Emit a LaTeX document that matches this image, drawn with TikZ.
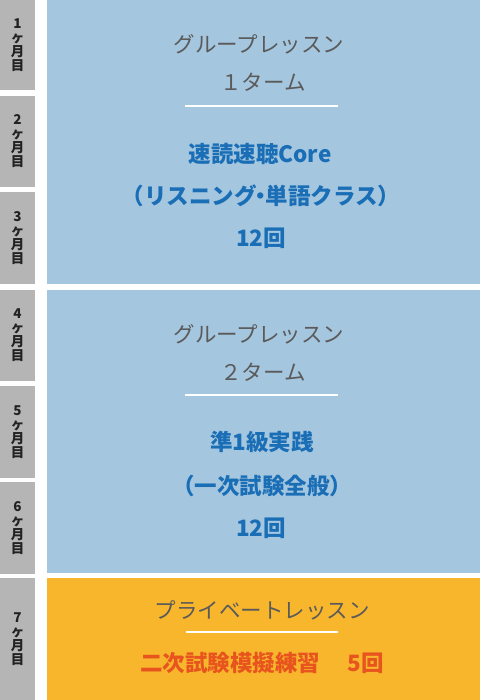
\documentclass[tikz,border=0pt]{standalone}
\usepackage{fontspec}
\setmainfont{Noto Sans CJK JP}
\usetikzlibrary{positioning}
\definecolor{month_gray}{RGB}{181,181,181}
\definecolor{month_ink}{RGB}{34,34,34}
\definecolor{group_blue}{RGB}{164,198,223}
\definecolor{private_orange}{RGB}{248,182,45}
\definecolor{kind_ink}{RGB}{90,90,90}
\definecolor{course_ink}{RGB}{26,110,182}
\definecolor{exam_ink}{RGB}{232,84,30}
\tikzset{
    month_box/.style={rectangle, fill=month_gray, minimum width=35pt, inner sep=0pt, text centered, align=center, text=month_ink, font=\bfseries\fontsize{13.5}{14}\selectfont},
    plan_box/.style={rectangle, minimum width=433pt, inner sep=0pt},
    kind_text/.style={inner sep=0pt, text=kind_ink, font=\fontsize{21.5}{21.5}\selectfont},
    course_text/.style={inner sep=0pt, text=course_ink, font=\bfseries\fontsize{22.5}{22.5}\selectfont},
    rule_line/.style={white, line width=1.2pt},
}
\begin{document}
\begin{tikzpicture}[x=1pt, y=-1pt]
    \useasboundingbox (0,0) rectangle (480,700);
    %%%%%%%%%%
    % MONTHS %
    %%%%%%%%%%
    \foreach \n/\y/\h in {1/45/90, 2/141.5/91, 3/238/92, 4/335.5/91, 5/432/92, 6/528/92, 7/639/122}
        \node (month\n) [month_box, minimum height=\h pt] at (17.5,\y)
            {\n\\ヶ\\月\\目};
    %%%%%%%%%%
    % TERM 1 %
    %%%%%%%%%%
    \node (term1) [plan_box, fill=group_blue, minimum height=284pt] at (263.5,142) {};
    \node (term1_kind) [kind_text] at (259,44) {グループレッスン};
    \node (term1_no) [kind_text] at (263,82.5) {１ターム};
    \coordinate (rule1_l) at (185,106);
    \coordinate (rule1_r) at (338,106);
    \draw[rule_line] (rule1_l) -- (rule1_r);
    \node (term1_name) [course_text] at (260,154) {速読速聴Core};
    \node (term1_sub) [course_text] at (261,196) {（リスニング\kern-0.3em・\kern-0.3em単語クラス）};
    \node (term1_count) [course_text] at (261,238) {12回};
    %%%%%%%%%%
    % TERM 2 %
    %%%%%%%%%%
    \node (term2) [plan_box, fill=group_blue, minimum height=283pt] at (263.5,431.5) {};
    \node (term2_kind) [kind_text] at (259,334) {グループレッスン};
    \node (term2_no) [kind_text] at (263,372) {２ターム};
    \coordinate (rule2_l) at (185,395);
    \coordinate (rule2_r) at (338,395);
    \draw[rule_line] (rule2_l) -- (rule2_r);
    \node (term2_name) [course_text] at (262,442) {準1級実践};
    \node (term2_sub) [course_text] at (262,486) {（一次試験全般）};
    \node (term2_count) [course_text] at (261,528) {12回};
    %%%%%%%%%%%
    % PRIVATE %
    %%%%%%%%%%%
    \node (private) [plan_box, fill=private_orange, minimum height=122pt] at (263.5,639) {};
    \node (private_kind) [kind_text] at (262,610) {プライベートレッスン};
    \coordinate (rule3_l) at (186,632);
    \coordinate (rule3_r) at (338,632);
    \draw[rule_line] (rule3_l) -- (rule3_r);
    \node (private_name) [course_text, text=exam_ink] at (262,663)
        {二次試験模擬練習\hspace{1.2em}5回};
\end{tikzpicture}
\end{document}
